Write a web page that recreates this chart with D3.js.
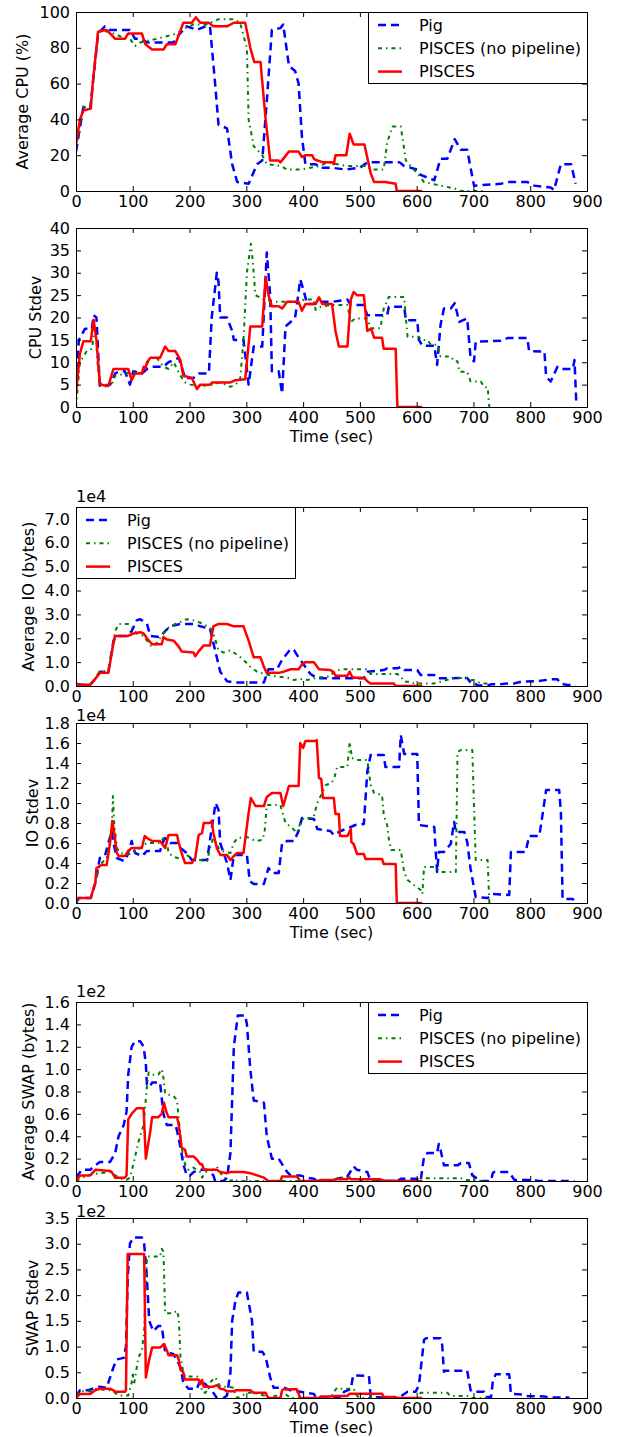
<!DOCTYPE html>
<html lang='en'>
<head>
<meta charset='UTF-8'>
<title>Pig vs PISCES resource usage</title>
<style>
  body { margin: 0; background: #fff; }
  svg text { font-family: 'DejaVu Sans', sans-serif; font-size: 16px; fill: #000; }
</style>
</head>
<body>
<svg id='graph' width='619' height='1437'></svg>
<script src='https://d3js.org/d3.v7.min.js'></script>
<script>
// x axis ticks shared by every panel
const timeTicks = [0, 100, 200, 300, 400, 500, 600, 700, 800, 900]
const seriesNames = ['Pig', 'PISCES (no pipeline)', 'PISCES']

// [time (sec), value]

// Average CPU (%)
const cpuAvgPig = [[0,22],[13,47],[25,46],[39,88],[51,92],[60,90],[95,90],[104,85],[116,85],[125,83],[172,83],[178,86],[186,89],[195,92],[213,90],[228,92],[236,92],[245,60],[251,37],[266,35],[275,15],[284,5],[304,4],[319,15],[328,17],[336,50],[345,90],[360,91],[365,93],[375,70],[386,67],[392,60],[398,30],[404,15],[422,15],[430,13],[450,13],[475,12],[500,13],[513,16],[570,16],[578,14],[601,12],[607,9],[631,6],[642,18],[654,18],[667,29],[678,23],[689,23],[701,3],[748,4],[760,5],[795,5],[807,3],[836,2],[842,0.5],[854,15],[872,15],[880,4]]
const cpuAvgNoPipe = [[0,24],[13,47],[25,46],[39,90],[45,90],[66,88],[81,86],[95,85],[104,81],[113,83],[142,85],[166,87],[178,88],[192,91],[207,93],[230,93],[251,96],[278,96],[289,94],[301,80],[304,40],[313,25],[328,20],[336,15],[360,14],[372,12],[395,12],[413,13],[430,14],[442,16],[460,15],[477,14],[513,14],[519,12],[542,12],[548,27],[557,36],[572,36],[581,17],[589,14],[601,10],[613,5],[642,3],[666,1.5],[678,0],[722,0]]
const cpuAvgPisces = [[0,26],[7,40],[13,45],[26,46],[30,62],[39,89],[54,90],[69,85],[86,85],[92,88],[116,88],[122,82],[134,79],[154,79],[160,82],[175,82],[189,94],[204,94],[211,97],[219,94],[234,94],[242,92],[266,92],[278,94],[298,94],[307,80],[314,72],[325,72],[334,40],[342,17],[357,17],[360,16],[375,22],[392,22],[398,19],[404,20],[416,20],[419,18],[425,17],[436,16],[451,16],[454,15],[457,20],[476,20],[482,32],[489,26],[508,26],[519,10],[525,5],[545,5],[563,4],[565,0],[610,0]]

// CPU Stdev
const cpuSdPig = [[0,5],[5,15],[16,17.5],[28,17.5],[31,20.5],[36,20],[42,4.5],[48,4.5],[60,5],[69,7.5],[78,8],[86,8],[95,5],[101,8],[116,7.5],[125,8.5],[134,9],[154,9],[163,10],[172,10.5],[181,11],[186,9],[192,6.5],[207,6.5],[216,7.5],[234,7.5],[239,20],[248,30],[251,28],[254,20],[266,20],[275,17],[278,15],[295,15],[304,5],[313,13.5],[328,13.5],[336,34.5],[342,25],[345,8],[357,8],[363,3],[369,18],[378,19],[386,20],[395,28.5],[401,26],[407,23],[419,23],[425,23.5],[451,23.5],[478,24],[484,22.8],[507,22.8],[513,20.5],[548,20.5],[551,22.4],[578,22.4],[581,19.4],[601,19.4],[604,15],[610,13.7],[631,13.7],[636,9.4],[642,18.3],[648,22],[660,22],[667,23.2],[675,19],[689,19.8],[695,10.9],[701,10.2],[704,14.6],[748,14.8],[760,15.4],[795,15.4],[798,12.5],[825,12.4],[828,6.8],[836,5.7],[848,9],[854,8.5],[875,8.5],[878,10.5],[881,1.3]]
const cpuSdNoPipe = [[0,0],[7,10],[19,12.5],[28,13],[34,18],[39,8],[45,5],[63,5],[69,7],[89,7.5],[101,8],[116,7.5],[122,9],[131,11],[142,11],[154,9],[163,8.5],[172,10],[178,8.5],[184,7],[192,5.5],[201,5],[219,4.7],[242,5],[254,5.5],[272,4.5],[281,5],[289,6],[295,15],[301,30],[308,36.5],[311,33],[316,25],[331,24],[354,23.5],[395,23.5],[401,24],[419,24],[422,21.7],[431,22.4],[448,22.8],[478,22.8],[484,19],[492,19.8],[513,19.8],[519,17.6],[536,17.6],[542,22],[551,24.6],[578,24.6],[581,19.8],[584,15.7],[604,15.7],[607,15],[619,15],[625,13.9],[636,13.9],[642,11.3],[660,11.3],[666,10.2],[672,10.2],[675,7.9],[689,7.9],[695,5.7],[713,5.7],[719,4.4],[725,4.4],[728,0]]
const cpuSdPisces = [[0,3],[7,12],[13,14.7],[26,14.7],[31,19.5],[36,15],[42,5],[57,4.7],[66,8.5],[92,8.5],[98,6],[104,7.5],[116,7.5],[119,9],[122,8.5],[125,10],[131,11],[148,11],[157,13.5],[163,12.5],[175,12.5],[184,10.5],[189,7],[204,6.5],[213,4],[219,5],[236,5],[240,5.5],[272,5.5],[281,6],[298,6.2],[307,18],[328,18],[334,29],[339,25],[345,22.5],[357,22.5],[363,22],[372,23.5],[392,23.5],[398,21.5],[404,23],[422,23],[428,24.5],[434,23],[451,23],[457,17],[463,13.5],[478,13.5],[484,24],[489,25.7],[495,25],[507,25],[513,17],[520,17.5],[525,15.5],[539,15.5],[542,13],[563,13],[566,0],[610,0]]

// Average IO (bytes), x 1e4
const ioAvgPig = [[0,0.1],[7,0.05],[25,0.05],[34,0.3],[42,0.6],[57,0.6],[66,1.9],[72,2.1],[89,2.1],[98,2.3],[107,2.75],[113,2.8],[125,2.6],[131,2.1],[148,2.05],[157,2.3],[166,2.5],[184,2.6],[207,2.6],[219,2.5],[236,2.4],[245,1.5],[254,0.6],[266,0.2],[278,0.15],[331,0.15],[339,0.7],[354,0.7],[363,1.1],[378,1.55],[384,1.5],[392,1.2],[401,0.9],[407,0.7],[413,0.5],[425,0.32],[507,0.32],[513,0.6],[542,0.67],[548,0.74],[566,0.74],[572,0.8],[578,0.67],[601,0.67],[607,0.46],[631,0.46],[636,0.32],[689,0.34],[695,0.15],[701,0.15],[707,0.02],[725,0.02],[731,0.07],[748,0.07],[760,0.11],[772,0.11],[784,0.18],[813,0.2],[836,0.28],[848,0.28],[854,0.1],[866,0.04],[875,0.04],[880,0]]
const ioAvgNoPipe = [[0,0.1],[7,0.05],[25,0.05],[34,0.3],[42,0.63],[57,0.63],[69,2.3],[75,2.6],[92,2.6],[98,2.5],[107,2.2],[113,2.15],[119,2.1],[131,1.7],[136,1.65],[142,1.8],[154,2.2],[163,2.45],[175,2.6],[186,2.7],[195,2.8],[207,2.75],[219,2.65],[236,2.45],[242,2.2],[251,1.5],[260,1.4],[272,1.5],[284,1.3],[295,1.1],[307,0.8],[319,0.6],[331,0.5],[354,0.4],[372,0.35],[384,0.25],[395,0.3],[407,0.25],[425,0.35],[448,0.42],[454,0.6],[466,0.7],[513,0.7],[519,0.5],[566,0.5],[572,0.4],[578,0.18],[589,0.18],[595,0.11],[631,0.11],[642,0.18],[660,0.3],[666,0.34],[689,0.34],[695,0.25],[701,0.25],[713,0.11],[725,0.11],[728,0]]
const ioAvgPisces = [[0,0.1],[7,0.05],[25,0.05],[34,0.3],[42,0.55],[57,0.55],[66,1.8],[69,2.1],[92,2.1],[101,2.2],[113,2.25],[119,2.2],[125,2.0],[134,1.75],[151,1.75],[154,2.05],[160,1.95],[172,1.9],[181,1.65],[186,1.45],[207,1.4],[210,1.25],[216,1.45],[225,1.7],[236,1.7],[242,2.5],[251,2.6],[266,2.6],[278,2.5],[295,2.5],[304,1.9],[313,1.2],[325,1.2],[331,0.8],[336,0.55],[357,0.55],[366,0.6],[378,0.7],[392,0.7],[398,0.9],[404,1.0],[419,1.0],[428,0.7],[448,0.67],[454,0.57],[457,0.43],[478,0.43],[482,0.6],[486,0.4],[489,0.35],[507,0.35],[513,0.2],[519,0.1],[560,0.1],[563,0],[610,0]]

// IO Stdev, x 1e4
const ioSdPig = [[0,0],[5,0.05],[26,0.05],[34,0.2],[42,0.45],[51,0.47],[57,0.6],[63,0.72],[66,0.6],[72,0.45],[84,0.42],[89,0.45],[98,0.62],[104,0.5],[116,0.47],[125,0.52],[148,0.52],[154,0.62],[157,0.65],[166,0.6],[178,0.6],[184,0.55],[195,0.5],[204,0.43],[231,0.43],[239,0.75],[246,1.0],[251,0.93],[254,0.6],[260,0.5],[266,0.4],[272,0.23],[278,0.48],[301,0.48],[306,0.22],[313,0.19],[331,0.19],[339,0.35],[345,0.3],[357,0.3],[363,0.6],[372,0.62],[384,0.62],[392,0.72],[398,0.85],[419,0.84],[425,0.74],[448,0.72],[454,0.68],[466,0.72],[484,0.76],[492,0.78],[507,0.79],[513,1.31],[519,1.48],[542,1.48],[545,1.36],[569,1.36],[572,1.68],[578,1.49],[601,1.49],[604,0.78],[631,0.76],[634,0.48],[636,0.31],[639,0.51],[648,0.51],[660,0.59],[666,0.81],[669,0.71],[684,0.71],[689,0.61],[695,0.34],[704,0.06],[725,0.05],[734,0.09],[763,0.08],[766,0.51],[792,0.51],[798,0.67],[816,0.67],[825,1.01],[828,1.13],[851,1.13],[854,0.91],[857,0.04],[875,0.04],[881,0]]
const ioSdNoPipe = [[0,0],[5,0.05],[26,0.05],[31,0.15],[36,0.25],[42,0.38],[54,0.45],[63,0.7],[65,1.07],[67,0.82],[72,0.55],[78,0.5],[89,0.48],[101,0.5],[113,0.55],[125,0.6],[148,0.6],[154,0.65],[160,0.62],[163,0.5],[172,0.46],[186,0.44],[195,0.48],[207,0.44],[219,0.43],[231,0.42],[236,0.55],[242,0.65],[251,0.55],[257,0.52],[272,0.5],[278,0.6],[284,0.65],[301,0.66],[316,0.62],[328,0.63],[332,0.7],[336,0.98],[360,0.98],[363,0.92],[369,0.8],[381,0.75],[389,0.7],[395,0.8],[401,0.85],[418,0.85],[425,1.0],[440,1.18],[450,1.2],[455,1.25],[460,1.36],[478,1.36],[482,1.61],[486,1.45],[495,1.43],[513,1.43],[519,1.18],[525,1.1],[539,1.08],[542,0.88],[548,0.78],[551,0.64],[555,0.53],[572,0.53],[578,0.31],[584,0.23],[595,0.18],[607,0.13],[610,0.09],[613,0.36],[631,0.36],[636,0.34],[642,0.31],[669,0.31],[672,1.51],[678,1.53],[698,1.53],[701,0.98],[704,0.43],[725,0.43],[728,0]]
const ioSdPisces = [[0,0.05],[26,0.05],[31,0.15],[34,0.2],[36,0.35],[45,0.38],[54,0.38],[60,0.6],[64,0.82],[66,0.75],[72,0.5],[75,0.47],[86,0.47],[92,0.52],[98,0.55],[116,0.55],[121,0.67],[125,0.65],[134,0.62],[148,0.62],[157,0.55],[163,0.68],[178,0.68],[181,0.6],[186,0.5],[192,0.4],[204,0.4],[210,0.45],[216,0.68],[222,0.7],[225,0.8],[236,0.8],[239,0.82],[242,0.7],[248,0.55],[254,0.48],[266,0.48],[272,0.43],[278,0.47],[284,0.5],[295,0.5],[304,0.9],[308,1.05],[316,0.97],[331,0.97],[336,1.06],[345,1.1],[360,1.1],[365,0.97],[369,1.05],[375,1.17],[392,1.17],[395,1.6],[400,1.55],[404,1.62],[422,1.62],[424,1.63],[428,1.25],[432,1.24],[435,1.05],[454,1.05],[457,0.89],[463,0.89],[465,0.67],[478,0.67],[484,0.74],[485,0.61],[489,0.59],[495,0.49],[507,0.49],[510,0.44],[539,0.44],[542,0.39],[563,0.39],[565,0],[610,0]]

// Average SWAP (bytes), x 1e2
const swapAvgPig = [[0,0.03],[10,0.1],[25,0.1],[34,0.14],[42,0.17],[60,0.17],[69,0.25],[75,0.4],[84,0.5],[89,0.62],[92,0.95],[98,1.2],[104,1.25],[113,1.25],[119,1.2],[123,1.05],[125,0.85],[131,0.85],[134,0.88],[148,0.88],[154,0.6],[160,0.5],[175,0.5],[178,0.45],[184,0.3],[189,0.15],[195,0.05],[201,0.05],[207,0.08],[219,0.1],[231,0.1],[242,0.05],[245,0],[260,0],[266,0.03],[272,0.25],[278,1.2],[285,1.48],[298,1.48],[301,1.4],[307,1.0],[313,0.72],[331,0.7],[336,0.4],[345,0.2],[357,0.2],[363,0.15],[372,0.08],[378,0.05],[395,0.05],[407,0.03],[419,0.02],[425,0],[448,0],[460,0.02],[478,0.04],[489,0.13],[495,0.1],[513,0.08],[519,0],[566,0],[572,0.02],[601,0.02],[607,0],[613,0.22],[619,0.25],[636,0.25],[639,0.33],[642,0.28],[648,0.14],[672,0.14],[678,0.16],[692,0.16],[698,0.05],[704,0.03],[713,0],[731,0],[734,0.07],[736,0.08],[763,0.08],[772,0.01],[807,0.01],[813,0],[878,0]]
const swapAvgNoPipe = [[0,0],[7,0.02],[19,0.05],[42,0.07],[60,0.08],[69,0.05],[78,0.02],[89,0.01],[95,0.03],[101,0.15],[110,0.35],[113,0.4],[119,0.5],[125,0.85],[128,0.97],[136,0.95],[145,0.95],[151,1.0],[154,0.92],[157,0.78],[172,0.76],[178,0.72],[181,0.55],[186,0.3],[192,0.15],[198,0.1],[207,0.12],[219,0.08],[222,0.03],[228,0.08],[242,0.1],[248,0.13],[251,0.1],[260,0.03],[272,0],[278,0.02],[284,0],[454,0],[460,0.02],[466,0.045],[472,0.015],[484,0.03],[495,0.01],[505,0],[601,0],[607,0.02],[610,0.025],[678,0.025],[684,0.01],[695,0.01],[713,0],[725,0]]
const swapAvgPisces = [[0,0],[7,0.05],[25,0.05],[34,0.1],[60,0.09],[63,0.08],[69,0.03],[86,0.03],[89,0.05],[92,0.55],[98,0.6],[107,0.65],[119,0.65],[123,0.2],[131,0.45],[134,0.57],[145,0.57],[151,0.6],[155,0.7],[159,0.62],[163,0.57],[178,0.57],[181,0.5],[186,0.3],[192,0.28],[195,0.22],[207,0.22],[213,0.19],[219,0.15],[222,0.15],[225,0.1],[248,0.1],[254,0.08],[266,0.07],[272,0.08],[295,0.08],[307,0.07],[319,0.05],[331,0.03],[339,0],[360,0],[363,0.04],[389,0.04],[395,0],[425,0],[431,0.01],[454,0.01],[457,0.015],[478,0.015],[482,0.03],[484,0.015],[536,0.015],[542,0.003],[563,0.003],[565,0],[610,0]]

// SWAP Stdev, x 1e2
const swapSdPig = [[0,0.03],[7,0.15],[22,0.15],[34,0.2],[42,0.22],[54,0.2],[63,0.5],[66,0.6],[72,0.75],[84,0.78],[88,1.0],[91,2.3],[95,3.0],[101,3.12],[116,3.12],[120,3.0],[124,2.5],[129,1.5],[136,1.3],[145,1.4],[151,1.4],[157,0.9],[172,0.85],[184,0.6],[189,0.3],[198,0.18],[213,0.18],[219,0.35],[225,0.3],[234,0.2],[239,0.15],[245,0.05],[248,0],[260,0],[266,0.05],[272,0.5],[275,1.5],[281,1.9],[286,2.05],[301,2.05],[310,1.5],[313,0.9],[328,0.9],[334,0.8],[342,0.4],[348,0.2],[366,0.2],[378,0.15],[389,0.13],[395,0.12],[407,0.1],[419,0.08],[422,0.02],[431,0],[466,0],[472,0.12],[478,0.15],[484,0.17],[488,0.44],[516,0.43],[519,0.02],[566,0],[572,0.03],[584,0.12],[598,0.12],[604,0.25],[613,1.13],[616,1.16],[642,1.16],[645,1.03],[648,0.51],[651,0.53],[689,0.53],[695,0.15],[698,0.12],[719,0.12],[722,0.02],[731,0.02],[734,0.31],[739,0.46],[763,0.46],[766,0.08],[786,0.07],[795,0.04],[825,0.03],[834,0.01],[866,0.01],[869,0]]
const swapSdNoPipe = [[0,0.05],[7,0.13],[25,0.13],[36,0.18],[48,0.16],[60,0.15],[69,0.1],[75,0.05],[92,0.05],[98,0.3],[100,0.5],[102,0.25],[110,0.8],[116,0.9],[120,1.3],[125,2.75],[148,2.75],[151,2.9],[154,2.85],[157,1.65],[172,1.65],[178,1.7],[181,1.55],[184,0.8],[189,0.5],[192,0.42],[213,0.42],[219,0.35],[222,0.12],[228,0.1],[236,0.3],[245,0.4],[248,0.35],[254,0.22],[266,0.22],[278,0.2],[281,0.05],[284,0],[289,0.02],[301,0.1],[313,0.1],[331,0.05],[336,0],[354,0.05],[366,0.1],[372,0.05],[378,0],[448,0],[454,0.12],[460,0.2],[466,0.18],[489,0.18],[495,0.04],[501,0],[601,0],[607,0.1],[654,0.1],[660,0.04],[689,0.04],[695,0],[725,0]]
const swapSdPisces = [[0,0],[7,0.08],[25,0.08],[34,0.15],[42,0.18],[60,0.18],[66,0.15],[69,0.12],[86,0.12],[88,0.15],[91,2.8],[120,2.8],[123,0.4],[128,0.7],[134,0.98],[148,0.98],[155,1.05],[160,0.93],[163,0.83],[178,0.83],[181,0.75],[184,0.55],[189,0.5],[192,0.36],[216,0.36],[219,0.27],[222,0.35],[225,0.22],[242,0.22],[248,0.25],[254,0.18],[260,0.17],[266,0.13],[278,0.13],[281,0.15],[307,0.15],[313,0.1],[334,0.1],[336,0.05],[339,0],[360,0],[363,0.15],[366,0.17],[389,0.17],[395,0],[428,0],[431,0.03],[448,0.03],[454,0.04],[478,0.04],[482,0.085],[539,0.085],[542,0.02],[563,0.02],[565,0],[610,0]]

const svg = d3.select('#graph')
const left = 76
const right = 587

const styles = [
	{color: '#0000ff', dash: '8,5', width: 2.5},
	{color: '#008000', dash: '4,4,1.5,4', width: 2},
	{color: '#ff0000', dash: null, width: 2.5}
]

const panels = [
	{top: 12, bottom: 191, max: 100, ticks: d3.range(0, 101, 20), fmt: d3.format('d'), label: 'Average CPU (%)', labelX: 28,
		lines: [cpuAvgPig, cpuAvgNoPipe, cpuAvgPisces], legend: 'right'},
	{top: 228, bottom: 407, max: 40, ticks: d3.range(0, 41, 5), fmt: d3.format('d'), label: 'CPU Stdev', labelX: 41,
		lines: [cpuSdPig, cpuSdNoPipe, cpuSdPisces], xlabel: true},
	{top: 507, bottom: 686, max: 7.5, ticks: d3.range(0, 7.01, 1), fmt: d3.format('.1f'), label: 'Average IO (bytes)', labelX: 34,
		lines: [ioAvgPig, ioAvgNoPipe, ioAvgPisces], legend: 'left', offset: '1e4', offsetY: 502},
	{top: 723, bottom: 903, max: 1.8, ticks: d3.range(0, 1.81, 0.2), fmt: d3.format('.1f'), label: 'IO Stdev', labelX: 38,
		lines: [ioSdPig, ioSdNoPipe, ioSdPisces], xlabel: true, offset: '1e4', offsetY: 721},
	{top: 1002, bottom: 1181, max: 1.6, ticks: d3.range(0, 1.61, 0.2), fmt: d3.format('.1f'), label: 'Average SWAP (bytes)', labelX: 34,
		lines: [swapAvgPig, swapAvgNoPipe, swapAvgPisces], legend: 'right', offset: '1e2', offsetY: 997},
	{top: 1218, bottom: 1398, max: 3.5, ticks: d3.range(0, 3.51, 0.5), fmt: d3.format('.1f'), label: 'SWAP Stdev', labelX: 38,
		lines: [swapSdPig, swapSdNoPipe, swapSdPisces], xlabel: true, offset: '1e2', offsetY: 1217}
]

const xScale = d3.scaleLinear()
	.domain([0, 900])
	.range([left, right])

panels.forEach((p, i) => {
	const yScale = d3.scaleLinear()
		.domain([0, p.max])
		.range([p.bottom, p.top])

	svg.append('clipPath')
		.attr('id', `clip${i}`)
		.append('rect')
		.attr('x', left)
		.attr('y', p.top)
		.attr('width', right - left)
		.attr('height', p.bottom - p.top)

	const line = d3.line()
		.x((d) => xScale(d[0]))
		.y((d) => yScale(d[1]))

	p.lines.forEach((data, k) => {
		svg.append('path')
			.attr('clip-path', `url(#clip${i})`)
			.attr('d', line(data))
			.attr('fill', 'none')
			.attr('stroke', styles[k].color)
			.attr('stroke-width', styles[k].width)
			.attr('stroke-dasharray', styles[k].dash)
			.attr('stroke-linejoin', 'round')
	})

	// ticks point inwards on all four sides, like old matplotlib
	svg.append('g')
		.attr('transform', `translate(0, ${p.bottom})`)
		.call(d3.axisBottom(xScale).tickValues(timeTicks).tickSize(-5).tickPadding(5))
		.call((g) => g.select('.domain').remove())
	svg.append('g')
		.attr('transform', `translate(0, ${p.top})`)
		.call(d3.axisTop(xScale).tickValues(timeTicks).tickSize(-5).tickFormat(''))
		.call((g) => g.select('.domain').remove())
	svg.append('g')
		.attr('transform', `translate(${left}, 0)`)
		.call(d3.axisLeft(yScale).tickValues(p.ticks).tickSize(-5).tickPadding(6).tickFormat(p.fmt))
		.call((g) => g.select('.domain').remove())
	svg.append('g')
		.attr('transform', `translate(${right}, 0)`)
		.call(d3.axisRight(yScale).tickValues(p.ticks).tickSize(-5).tickFormat(''))
		.call((g) => g.select('.domain').remove())

	svg.append('rect')
		.attr('x', left)
		.attr('y', p.top)
		.attr('width', right - left)
		.attr('height', p.bottom - p.top)
		.attr('fill', 'none')
		.attr('stroke', '#000')
		.attr('shape-rendering', 'crispEdges')

	svg.append('text')
		.attr('transform', `translate(${p.labelX}, ${(p.top + p.bottom) / 2}) rotate(-90)`)
		.attr('text-anchor', 'middle')
		.text(p.label)

	if (p.xlabel) {
		svg.append('text')
			.attr('x', (left + right) / 2)
			.attr('y', p.bottom + 35)
			.attr('text-anchor', 'middle')
			.text('Time (sec)')
	}

	if (p.offset) {
		svg.append('text')
			.attr('x', left)
			.attr('y', p.offsetY)
			.text(p.offset)
	}

	if (p.legend) {
		const boxW = 219
		const boxX = p.legend === 'right' ? right - boxW : left
		const lg = svg.append('g').attr('transform', `translate(${boxX}, ${p.top})`)
		lg.append('rect')
			.attr('width', boxW)
			.attr('height', 71.5)
			.attr('fill', '#fff')
			.attr('stroke', '#000')
			.attr('shape-rendering', 'crispEdges')
		seriesNames.forEach((name, k) => {
			const cy = 13 + k * 23.3
			lg.append('line')
				.attr('x1', 10)
				.attr('x2', 34)
				.attr('y1', cy)
				.attr('y2', cy)
				.attr('stroke', styles[k].color)
				.attr('stroke-width', styles[k].width)
				.attr('stroke-dasharray', styles[k].dash)
			lg.append('text')
				.attr('x', 51)
				.attr('y', cy)
				.attr('dy', '0.35em')
				.text(name)
		})
	}
})
</script>
</body>
</html>
